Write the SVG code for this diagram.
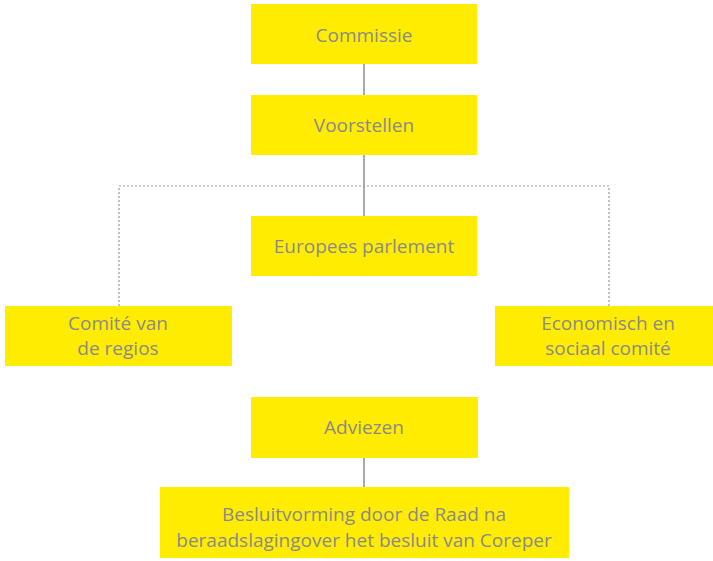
<svg xmlns="http://www.w3.org/2000/svg" width="713" height="561" viewBox="0 0 713 561">
<style>
.box{fill:#FFEC00}
.t{font-family:"Open Sans","Liberation Sans",sans-serif;font-size:19px;fill:#8A8A8A;text-anchor:middle}
.solid{stroke:#8C8C8C;stroke-width:1.5;fill:none}
.dot{stroke:#9A9A9A;stroke-width:1.2;stroke-dasharray:2 2;fill:none}
</style>
<rect width="713" height="561" fill="#fff"/>
<g id="connectors">
<line class="solid" x1="364" y1="64" x2="364" y2="95"/>
<line class="solid" x1="364" y1="155" x2="364" y2="216"/>
<line class="solid" x1="364" y1="458" x2="364" y2="487"/>
<polyline class="dot" points="119,306 119,186 609,186 609,306"/>
</g>
<g id="commissie"><rect class="box" x="251" y="4" width="226" height="60"/><text class="t" x="364" y="42">Commissie</text></g>
<g id="voorstellen"><rect class="box" x="251" y="95" width="226" height="60"/><text class="t" x="364" y="132">Voorstellen</text></g>
<g id="parlement"><rect class="box" x="251" y="216" width="226" height="60"/><text class="t" x="364" y="253">Europees parlement</text></g>
<g id="regios"><rect class="box" x="5" y="306" width="227" height="60"/><text class="t" x="118" y="330">Comité van</text><text class="t" x="118" y="355">de regios</text></g>
<g id="esc"><rect class="box" x="495" y="306" width="218" height="60"/><text class="t" x="608" y="330">Economisch en</text><text class="t" x="608" y="355">sociaal comité</text></g>
<g id="adviezen"><rect class="box" x="251" y="397" width="227" height="61"/><text class="t" x="364" y="434">Adviezen</text></g>
<g id="besluit"><rect class="box" x="160" y="487" width="409" height="71"/><text class="t" x="364" y="521">Besluitvorming door de Raad na</text><text class="t" x="364" y="547">beraadslagingover het besluit van Coreper</text></g>
</svg>
